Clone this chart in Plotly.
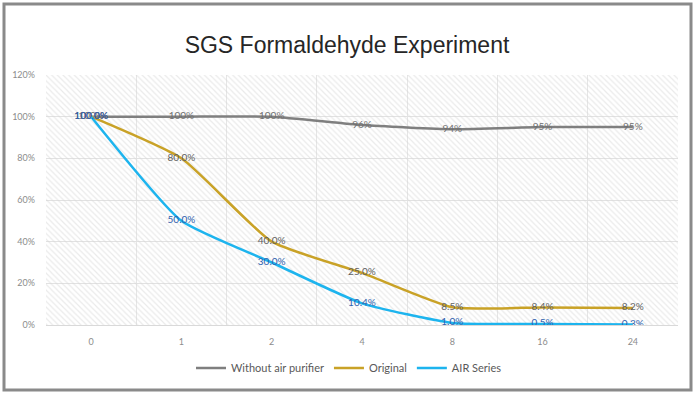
import plotly.graph_objects as go

categories = ["0", "1", "2", "4", "8", "16", "24"]
without_purifier = [100, 100, 100, 96, 94, 95, 95]
original = [100, 80, 40, 25, 8.5, 8.4, 8.2]
air_series = [100, 50, 30, 10.4, 1.0, 0.5, 0.3]
y_ticks = [0, 20, 40, 60, 80, 100, 120]
y_tick_labels = [f"{v}%" for v in y_ticks]
y_max = 120

W, H = 695, 397
L, R, T, B = 46, 17, 75, 72
pw, ph = W - L - R, H - T - B

fig = go.Figure()

# hatched plot background (decoration) built from the categories
fig.add_trace(go.Bar(
    x=categories, y=[y_max] * len(categories), width=1,
    marker=dict(color="rgba(0,0,0,0)", line=dict(width=0),
                pattern=dict(shape="\\", fgcolor="#d6d6d6", bgcolor="rgba(0,0,0,0)",
                             size=4, solidity=0.3)),
    showlegend=False, hoverinfo="skip"))

label_font = "Lato, 'Open Sans', sans-serif"

fig.add_trace(go.Scatter(
    x=categories, y=without_purifier, name="Without air purifier",
    mode="lines+text", line=dict(color="#7f7f7f", width=2.5, shape="spline", smoothing=0.5),
    text=[f"{v:.0f}%" for v in without_purifier], textposition="middle center",
    textfont=dict(color="#6f6f6f", size=10, family=label_font)))

fig.add_trace(go.Scatter(
    x=categories, y=original, name="Original",
    mode="lines+text", line=dict(color="#c9a227", width=2.5, shape="spline", smoothing=0.5),
    text=[f"{v:.1f}%" for v in original], textposition="middle center",
    textfont=dict(color="#5f5f5f", size=10, family=label_font)))

fig.add_trace(go.Scatter(
    x=categories, y=air_series, name="AIR Series",
    mode="lines+text", line=dict(color="#1db4ee", width=2.5, shape="spline", smoothing=0.5),
    text=[f"{v:.1f}%" for v in air_series], textposition="middle center",
    textfont=dict(color="#2f5fae", size=10, family=label_font)))

fig.update_layout(
    width=W, height=H,
    margin=dict(l=L, r=R, t=T, b=B, autoexpand=False),
    paper_bgcolor="white", plot_bgcolor="white",
    barmode="overlay",
    title=dict(text="SGS Formaldehyde Experiment", x=347 / W, xanchor="center",
               y=1 - 45 / H, yanchor="middle",
               font=dict(family="Liberation Sans, Arial, sans-serif", size=23, color="#262626")),
    xaxis=dict(type="category", tickson="boundaries", showgrid=True, gridcolor="#e6e6e6",
               gridwidth=1, ticks="", showline=True, linecolor="#d9d9d9", automargin=False,
               tickfont=dict(size=9, color="#8c8c8c", family=label_font),
               range=[-0.5, len(categories) - 0.5], ticklabelstandoff=8),
    yaxis=dict(range=[0, y_max], tickvals=y_ticks, ticktext=y_tick_labels, showgrid=True,
               gridcolor="#e2e2e2", zeroline=False, ticks="", automargin=False,
               ticklabelstandoff=10,
               tickfont=dict(size=9, color="#8c8c8c", family=label_font)),
    legend=dict(orientation="h", x=(349 - L) / pw, xanchor="center",
                y=-(368 - 325) / ph, yanchor="middle",
                font=dict(size=11, color="#595959", family=label_font),
                traceorder="normal"),
    showlegend=True,
)

# outer chart border
fig.add_shape(type="rect", xref="paper", yref="paper",
              x0=(4 - L) / pw, x1=(691 - L) / pw,
              y0=(325 - 390) / ph, y1=(325 - 4) / ph,
              line=dict(color="#8a8a8a", width=3), layer="above")

fig.write_html(
    "out.html",
    config={"displayModeBar": False},
    post_script="document.body.style.margin='0';document.body.style.overflow='hidden';",
)
